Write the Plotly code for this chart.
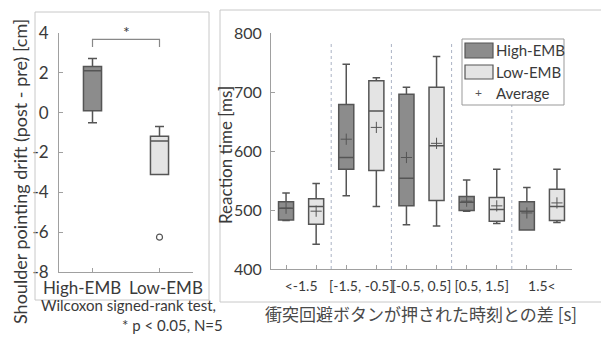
import plotly.graph_objects as go

W, H = 601, 338

# ---------------- data ----------------
left_groups = ["High-EMB", "Low-EMB"]
left_q1 = [0.1, -3.1]
left_median = [2.1, -1.42]
left_q3 = [2.32, -1.18]
left_lower = [-0.5, -3.1]
left_upper = [2.72, -0.7]
left_outlier_group = [2]
left_outlier_value = [-6.25]
left_yticks = [4, 2, 0, -2, -4, -6, -8]
left_yticklabels = ["4", "2", "0", "-2", "-4", "-6", "-8"]

categories = ["<-1.5", "[-1.5, -0.5]", "[-0.5, 0.5]", "[0.5, 1.5]", "1.5<"]
high_upper = [529, 747, 708, 551, 538]
high_q3 = [514, 679, 696, 523, 514]
high_median = [503, 589, 554, 513, 498]
high_q1 = [483, 569, 507, 499, 466]
high_lower = [482, 524, 475, 498, 466]
high_mean = [503, 620, 589, 515, 495]
low_upper = [545, 724, 760, 569, 569]
low_q3 = [519, 719, 708, 521, 535]
low_median = [506, 668, 609, 501, 506]
low_q1 = [476, 567, 516, 481, 482]
low_lower = [442, 506, 473, 477, 479]
low_mean = [498, 640, 613, 507, 512]
right_yticks = [400, 500, 600, 700, 800]

DARK = "#8c8c8c"
LIGHT = "#e4e4e4"
EDGE = "#555555"
TXT = "#3a3a3a"
FONT = "Lato, 'Noto Sans CJK JP', sans-serif"
JFONT = "'Noto Sans CJK JP', Lato, sans-serif"


def px(x):
    return x / W


def py(y):
    return 1 - y / H


fig = go.Figure()

# ---- left panel boxes ----
left_pos = [i + 1 for i in range(len(left_groups))]
for i, col in enumerate([DARK, LIGHT]):
    fig.add_trace(go.Box(
        x=[left_pos[i]], q1=[left_q1[i]], median=[left_median[i]], q3=[left_q3[i]],
        lowerfence=[left_lower[i]], upperfence=[left_upper[i]],
        width=0.27, fillcolor=col, line=dict(color=EDGE, width=1.5),
        whiskerwidth=0.5, boxpoints=False, showlegend=False,
        xaxis="x", yaxis="y", hoverinfo="skip"))
fig.add_trace(go.Scatter(
    x=left_outlier_group, y=left_outlier_value, mode="markers",
    marker=dict(symbol="circle-open", size=6, color=EDGE, line=dict(width=1.2)),
    showlegend=False, xaxis="x", yaxis="y", hoverinfo="skip", cliponaxis=False))

# ---- right panel boxes ----
centers = [i + 1 for i in range(len(categories))]
high_x = [c - 0.25 for c in centers]
low_x = [c + 0.25 for c in centers]
fig.add_trace(go.Box(
    x=high_x, q1=high_q1, median=high_median, q3=high_q3,
    lowerfence=high_lower, upperfence=high_upper,
    width=0.25, fillcolor=DARK, line=dict(color=EDGE, width=1.5),
    whiskerwidth=0.5, boxpoints=False, showlegend=False,
    xaxis="x2", yaxis="y2", hoverinfo="skip"))
fig.add_trace(go.Box(
    x=low_x, q1=low_q1, median=low_median, q3=low_q3,
    lowerfence=low_lower, upperfence=low_upper,
    width=0.25, fillcolor=LIGHT, line=dict(color=EDGE, width=1.5),
    whiskerwidth=0.5, boxpoints=False, showlegend=False,
    xaxis="x2", yaxis="y2", hoverinfo="skip"))
fig.add_trace(go.Scatter(
    x=high_x + low_x, y=high_mean + low_mean, mode="markers",
    marker=dict(symbol="cross-thin", size=8, line=dict(color=EDGE, width=1)),
    showlegend=False, xaxis="x2", yaxis="y2", hoverinfo="skip"))
fig.add_trace(go.Scatter(x=[None], y=[None], xaxis="x3", yaxis="y2", showlegend=False))

axcommon = dict(showgrid=False, zeroline=False, showline=True, linecolor="#a0a0a0",
                linewidth=1, ticks="inside", ticklen=4, tickcolor="#a0a0a0",
                automargin=False, tickangle=0,
                tickfont=dict(family=FONT, size=17, color=TXT))

fig.update_layout(
    width=W, height=H, margin=dict(l=0, r=0, t=0, b=0),
    paper_bgcolor="white", plot_bgcolor="white", boxmode="overlay",
    font=dict(family=FONT, color=TXT),
    xaxis=dict(axcommon, domain=[px(59), px(193)], range=[0.5, 2.5],
               tickvals=left_pos, showticklabels=False, anchor="y"),
    yaxis=dict(axcommon, domain=[py(272), py(33)], range=[-8, 4],
               tickvals=left_yticks, ticktext=left_yticklabels, anchor="x",
               ticklabelstandoff=6),
    xaxis2=dict(axcommon, domain=[px(271), px(572)], range=[0.5, 5.5],
                tickvals=high_x + low_x, showticklabels=False, anchor="y2"),
    xaxis3=dict(domain=[px(271), px(572)], range=[0.5, 5.5], overlaying="x2",
                anchor="y2", side="bottom", showline=False, showgrid=False,
                zeroline=False, ticks="", tickvals=centers, ticktext=categories,
                automargin=False, tickangle=0,
                tickfont=dict(family=FONT, size=14, color=TXT), ticklabelstandoff=7),
    yaxis2=dict(axcommon, domain=[py(269), py(33)], range=[400, 800],
                tickvals=right_yticks, anchor="x2", ticklabelstandoff=5,
                tickfont=dict(family=FONT, size=16, color=TXT)),
)

shapes = []
# panel frames
shapes.append(dict(type="rect", xref="paper", yref="paper", x0=px(35), x1=px(209),
                   y0=py(300), y1=py(12), line=dict(color="#c8c8c8", width=1)))
shapes.append(dict(type="rect", xref="paper", yref="paper", x0=px(220), x1=px(612),
                   y0=py(302), y1=py(10), line=dict(color="#c8c8c8", width=1)))
# category separators
for b in [1.5, 2.5, 3.5, 4.5]:
    shapes.append(dict(type="line", xref="x2", yref="y2", x0=b, x1=b, y0=400, y1=783,
                       line=dict(color="#aab2c4", width=1, dash="dot")))
# significance bracket
shapes.append(dict(type="path", xref="x", yref="y",
                   path="M 1,3.3 L 1,3.68 L 2,3.68 L 2,3.3",
                   line=dict(color="#888888", width=1.2)))
# legend
shapes.append(dict(type="rect", xref="paper", yref="paper", x0=px(462), x1=px(564),
                   y0=py(105), y1=py(39), line=dict(color="#999999", width=1),
                   fillcolor="white", layer="above"))
shapes.append(dict(type="rect", xref="paper", yref="paper", x0=px(465), x1=px(493),
                   y0=py(58), y1=py(43), line=dict(color=EDGE, width=1.2), fillcolor=DARK,
                   layer="above"))
shapes.append(dict(type="rect", xref="paper", yref="paper", x0=px(465), x1=px(493),
                   y0=py(79), y1=py(65), line=dict(color=EDGE, width=1.2), fillcolor=LIGHT,
                   layer="above"))
fig.update_layout(shapes=shapes)


def note(text, x, y, size, xanchor="center", angle=0, family=FONT, color=TXT):
    return dict(text=text, x=px(x), y=py(y), xref="paper", yref="paper", xanchor=xanchor,
                yanchor="middle", textangle=angle, showarrow=False,
                font=dict(family=family, size=size, color=color))


ann = [
    note("*", 126, 31, 16),
    note(left_groups[0], 41, 287, 17, xanchor="left"),
    note(left_groups[1], 205, 287, 17, xanchor="right"),
    note("Shoulder pointing drift (post - pre) [cm]", 20, 172, 18, angle=-90),
    note("Reaction time [ms]", 225, 155, 17, angle=-90),
    note("Wilcoxon signed-rank test,", 39, 305, 15, xanchor="left"),
    note("* p < 0.05, N=5", 225, 325, 15, xanchor="right"),
    note("衝突回避ボタンが押された時刻との差 [s]", 421, 313, 17, family=JFONT,
         color="#4a4a4a"),
    note("High-EMB", 494, 50, 15, xanchor="left"),
    note("Low-EMB", 494, 72, 15, xanchor="left"),
    note("+", 478, 93, 12, color=EDGE),
    note("Average", 494, 93, 15, xanchor="left"),
]
fig.update_layout(annotations=ann)

fig.write_html("out.html", config={"displayModeBar": False},
               post_script="document.body.style.margin='0';")
